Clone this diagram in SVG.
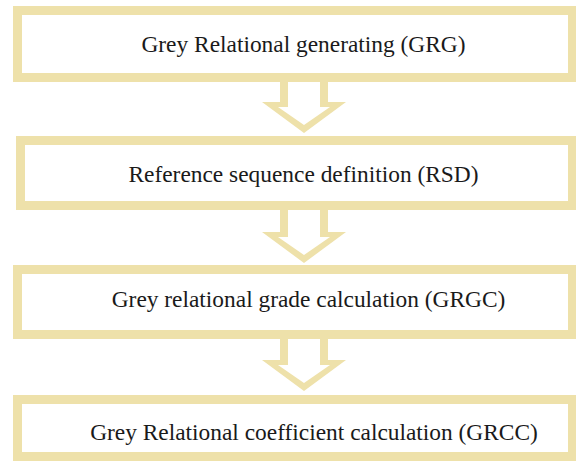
<svg xmlns="http://www.w3.org/2000/svg" width="576" height="461" viewBox="0 0 576 461">
  <style>
    .box { fill: #ffffff; stroke: #EEE1AA; stroke-width: 9; }
    .arrow { fill: #EEE1AA; fill-rule: evenodd; stroke: none; }
    .label { font-family: 'Liberation Serif', 'Times New Roman', serif; font-size: 23.4px; fill: #1a1a1a; text-anchor: middle; }
  </style>
  <defs>
    <path id="blockArrow" class="arrow" d="M280,76 L280,102 L262,102 L304,133 L346,102 L328,102 L328,76 Z M288,76 L288,107 L278,107 L304,125 L330,107 L320,107 L320,76 Z"/>
  </defs>
  <rect width="576" height="461" fill="#ffffff"/>
  <g id="connectors">
    <use href="#blockArrow"/>
    <use href="#blockArrow" transform="translate(0,130)"/>
    <use href="#blockArrow" transform="translate(0,258)"/>
  </g>
  <g id="node-grg">
    <rect class="box" x="17.5" y="10.5" width="555" height="67"/>
    <text class="label" x="303.5" y="52">Grey Relational generating (GRG)</text>
  </g>
  <g id="node-rsd">
    <rect class="box" x="20.5" y="140.5" width="552" height="65"/>
    <text class="label" x="303.5" y="182">Reference sequence definition (RSD)</text>
  </g>
  <g id="node-grgc">
    <rect class="box" x="17.5" y="269.5" width="555" height="65"/>
    <text class="label" x="308.5" y="307">Grey relational grade calculation (GRGC)</text>
  </g>
  <g id="node-grcc">
    <rect class="box" x="17.5" y="399.5" width="555" height="57"/>
    <text class="label" x="314" y="440">Grey Relational coefficient calculation (GRCC)</text>
  </g>
</svg>
